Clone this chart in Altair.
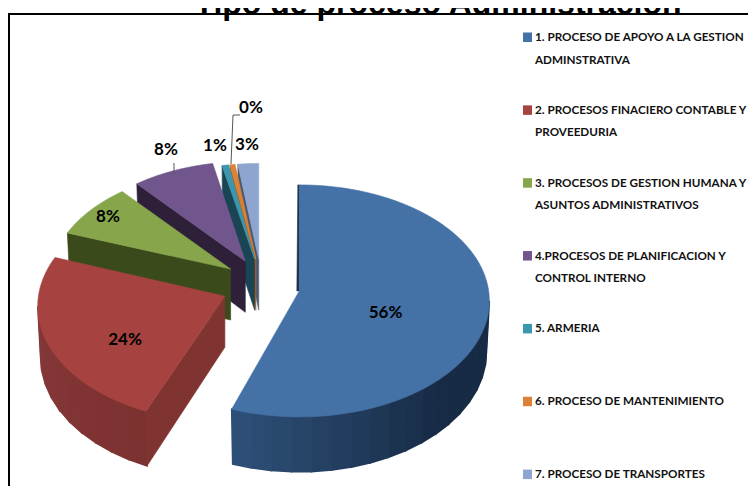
import math
import altair as alt
import pandas as pd

# ---- values ----------------------------------------------------------------
categories = [
    "1. PROCESO DE APOYO A LA GESTION|ADMINSTRATIVA",
    "2. PROCESOS FINACIERO CONTABLE Y D|PROVEEDURIA",
    "3. PROCESOS DE GESTION HUMANA Y|ASUNTOS ADMINISTRATIVOS",
    "4.PROCESOS DE PLANIFICACION Y|CONTROL INTERNO",
    "5. ARMERIA",
    "6. PROCESO DE MANTENIMIENTO",
    "7. PROCESO DE TRANSPORTES",
]
percent_labels = ["56%", "24%", "8%", "8%", "1%", "0%", "3%"]
# shares as they appear on the tilted pie (percent of the apparent turn)
apparent_share = [55.8, 26.1, 7.8, 7.4, 0.6, 0.45, 1.85]

# ---- styles ----------------------------------------------------------------
top_color = ["#4471a6", "#a64341", "#87a54b", "#70568c", "#3a97ae", "#dd8137", "#8ea6cf"]
cut_color = ["#1c3048", "#7f3431", "#3a4a1b", "#2e2039", "#1a4554", "#b3611f", "#4a5a70"]
rim_from = ["#2f527c", "#86383a", "#3a4a1b", "#2e2039", "#1a4554", "#b3611f", "#4a5a70"]
rim_to = ["#172b45", "#7c3230", "#3a4a1b", "#2e2039", "#1a4554", "#b3611f", "#4a5a70"]
FONT = "Lato"

# ---- layout of the 3-D pie --------------------------------------------------
CX, CY = 261, 286        # common apex before exploding
EX, EY = 39, 27          # explosion
R, RY = 190, 116         # rim ellipse
RIM_DY = 10              # the rim ellipse sits lower than the apex (perspective)
BOTTOM = 0.985
# perspective: slices further back are drawn smaller
SCALE_X = [1.0, 0.985, 0.947, 0.947, 0.947, 0.947, 0.947]
SCALE_Y = [1.0, 1.0, 0.945, 0.945, 0.91, 0.91, 0.91]
START_SHIFT = [0, 4.1, 0, 0, 0, 0, 0]   # degrees; foreshortening of the red slice's front edge


def depth(cos_t):
    return 51 - 4 * cos_t


def mix(a, b, t):
    ca = [int(a[i:i + 2], 16) for i in (1, 3, 5)]
    cb = [int(b[i:i + 2], 16) for i in (1, 3, 5)]
    return "#" + "".join(f"{round(x + (y - x) * t):02x}" for x, y in zip(ca, cb))


rows = []
shape_no = 0


def add(points, color, sw=0.6):
    global shape_no
    shape_no += 1
    for i, (x, y) in enumerate(points):
        rows.append({"x": x, "y": y, "shape": shape_no, "i": i, "c": color, "sw": sw})


edges = [0.0]
for s in apparent_share:
    edges.append(edges[-1] + s * 3.6)

# painted from the back (last slice) to the front (first slice)
for k in reversed(range(len(apparent_share))):
    t0, t1 = edges[k] + START_SHIFT[k], edges[k + 1]
    mid = math.radians((edges[k] + edges[k + 1]) / 2)
    ax = CX + EX * math.sin(mid)
    ay = CY - EY * math.cos(mid)
    rx, ry = R * SCALE_X[k], RY * SCALE_Y[k]

    def top(t):
        a = math.radians(t)
        return ax + rx * math.sin(a), ay + RIM_DY - ry * math.cos(a)

    def low(t):
        a = math.radians(t)
        c = math.cos(a)
        return ax + BOTTOM * rx * math.sin(a), ay + RIM_DY - ry * c + depth(c)

    # outer wall, in strips that carry the shading
    w0, w1 = max(t0, 90.0), min(t1, 270.0)
    if w1 > w0:
        n = max(2, int((w1 - w0) / 6))
        for j in range(n):
            a, b = w0 + (w1 - w0) * j / n, w0 + (w1 - w0) * (j + 1) / n
            frac = min(1.0, (w1 - a) / max(1e-6, min(w1 - w0, 70.0)))
            add([top(a), top(b), low(b), low(a)], mix(rim_from[k], rim_to[k], frac), sw=1.5)

    # cut wall that faces the viewer
    if k > 0:
        e = low(t0)
        add([top(t0), (ax, ay), (ax, ay + depth(0)), e], cut_color[k])
    else:
        add([top(t0), (ax, ay), (ax - 2.5, ay), (top(t0)[0] - 1.5, top(t0)[1])], cut_color[k])

    # top face
    steps = max(3, int((t1 - t0) / 2))
    add([(ax, ay)] + [top(t0 + (t1 - t0) * j / steps) for j in range(steps + 1)], top_color[k])

pie = pd.DataFrame(rows)

X = alt.X("x:Q", scale=alt.Scale(domain=[8, 748], range=[0, 740]), axis=None)
Y = alt.Y("y:Q", scale=alt.Scale(domain=[8, 486], range=[0, 478]), axis=None)

faces = alt.Chart(pie).mark_line(filled=True, interpolate="linear-closed").encode(
    x=X, y=Y,
    detail="shape:N",
    order="i:Q",
    fill=alt.Fill("c:N", scale=None),
    stroke=alt.Stroke("c:N", scale=None),
    strokeWidth=alt.StrokeWidth("sw:Q", scale=None),
)

# frame
frame_h = alt.Chart(pd.DataFrame({"y": [14], "x": [8], "x2": [748]})).mark_rule(color="black", strokeWidth=2).encode(
    y=Y, x=X, x2="x2:Q")
frame_v = alt.Chart(pd.DataFrame({"x": [9], "y": [14], "y2": [486]})).mark_rule(color="black", strokeWidth=2).encode(
    x=X, y=Y, y2="y2:Q")

# title, cut by the top of the page as in the reference
title = alt.Chart(pd.DataFrame({"x": [438], "y": [14], "t": ["Tipo de proceso Administración"]})).mark_text(
    font="Liberation Sans", fontWeight="bold", fontSize=32, baseline="alphabetic", align="center", color="black"
).encode(x=X, y=Y, text="t:N")

# legend
LEG_Y0, LEG_STEP, LEG_LINE = 37, 72.85, 22.5
leg_sq, leg_tx = [], []
for k, name in enumerate(categories):
    yy = LEG_Y0 + LEG_STEP * k
    leg_sq.append({"x": 523, "x2": 532, "y": yy - 4.5, "y2": yy + 5, "c": top_color[k]})
    for j, line in enumerate(name.split("|")):
        leg_tx.append({"x": 535, "y": yy + j * LEG_LINE, "t": line})

squares = alt.Chart(pd.DataFrame(leg_sq)).mark_rect().encode(
    x=X, x2="x2:Q", y=Y, y2="y2:Q", fill=alt.Fill("c:N", scale=None))
legend_text = alt.Chart(pd.DataFrame(leg_tx)).mark_text(
    font=FONT, fontWeight="bold", fontSize=11.7, align="left", baseline="middle", color="#111111"
).encode(x=X, y=Y, text="t:N")

# percentage labels and leader lines
LABEL_X = [385.5, 125, 108, 166, 215, 251, 247]
LABEL_Y = [313, 340, 217, 150, 146, 108, 145]
pct = alt.Chart(pd.DataFrame({"x": LABEL_X, "y": LABEL_Y, "t": percent_labels})).mark_text(
    font=FONT, fontWeight="bold", fontSize=17, align="center", baseline="middle", color="black"
).encode(x=X, y=Y, text="t:N")

leader = alt.Chart(pd.DataFrame({
    "x": [240, 233, 231, 174, 174],
    "y": [115, 115, 164, 163, 174],
    "g": ["a", "a", "a", "b", "b"],
    "i": [0, 1, 2, 0, 1],
})).mark_line(color="#555555", strokeWidth=1).encode(x=X, y=Y, detail="g:N", order="i:Q")

chart = alt.layer(faces, leader, frame_h, frame_v, title, squares, legend_text, pct).properties(
    width=740, height=478, padding=0, autosize=alt.AutoSizeParams(type="none"),
    background="white",
).configure_view(stroke=None)

chart.save("out.html", embed_options={"renderer": "svg", "actions": False})
